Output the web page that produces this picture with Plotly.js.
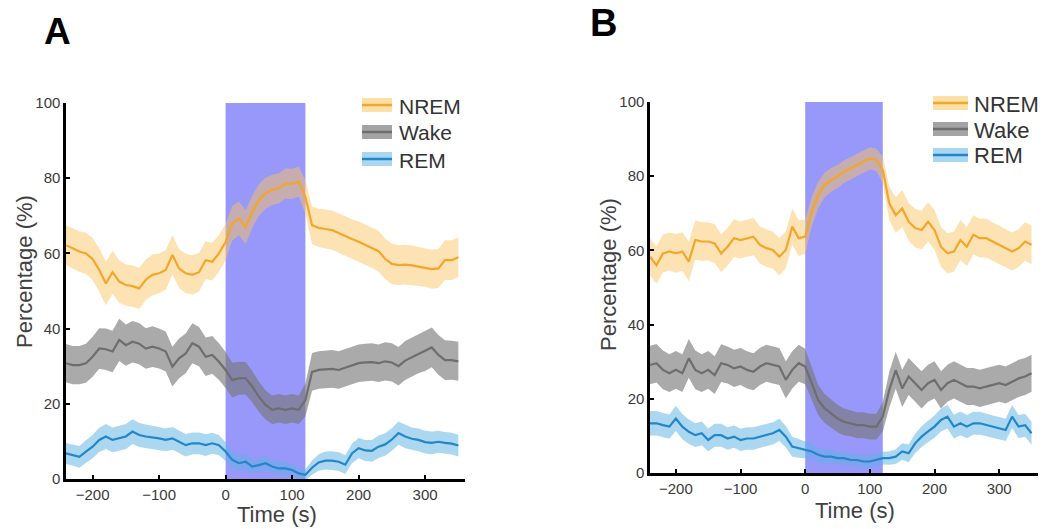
<!DOCTYPE html>
<html>
<head>
<meta charset="utf-8">
<script src="https://cdn.plot.ly/plotly-3.0.1.min.js"></script>
<style>html,body{margin:0;padding:0;background:#fff;}#chart{width:1048px;height:529px;}</style>
</head>
<body>
<div id="chart"></div>
<script>
// Time (s)
var T = [-240,-230,-220,-210,-200,-190,-180,-170,-160,-150,-140,-130,-120,-110,-100,-90,-80,-70,-60,-50,-40,-30,-20,-10,0,10,20,30,40,50,60,70,80,90,100,110,120,130,140,150,160,170,180,190,200,210,220,230,240,250,260,270,280,290,300,310,320,330,340,350];

// Panel A means (%)
var A_NREM = [62.2,61.3,60.5,60,58.5,55.6,52,55,52.5,51.6,51.3,50.7,53,54.3,54.7,55.6,59.6,56,54.7,54.3,55,58.2,57.8,60,63,68,69.3,67,71,74.2,76,76.9,77.3,78.6,78.5,79.1,75,67.5,66.8,66.5,66.2,65.4,64.5,63.8,63.1,62.3,61.5,60.6,58.5,57.2,56.9,57,56.8,56.5,56.3,55.8,56,58.2,58.2,59];
var A_WAKE = [30.8,30.3,30.3,30.8,32.5,34.7,34.5,33.9,37,35.6,36.5,36,34.7,35.2,34.7,33.9,29.9,32.1,33.4,36.1,35.2,32.5,33,31.2,29,26.3,26.8,26.8,24.6,21.9,19.7,18.4,18.8,18.4,18.8,18.4,21,28.5,29,29.2,29.3,29,29.6,30.2,30.8,31,31.1,30.8,31.3,31,30,31.5,32.4,33.3,34,35,33,31.6,31.6,31.3];
var A_REM = [6.8,6.4,5.9,7.3,8.6,10.4,11.3,10.4,10.8,11.3,12.6,11.7,11.3,11.1,10.8,10.4,10.8,9.9,9,9.5,9.5,9,9.5,9,7.3,5.1,4.2,4.6,3.3,3.7,4.2,3.3,2.8,2.8,2.4,1.5,1.1,3,4.4,4.9,4.9,4.6,3.8,6.8,8.2,7.6,7.5,8.6,9.2,10.5,12.2,11.3,10.7,10.4,9.8,9.6,9.9,9.6,9.4,8.9];

// Panel A half-widths of shaded bands
var A_NREM_SEM = [5.3,5.3,5.4,5.5,5.6,5.8,5.8,5.7,5.6,5.5,5.5,5.5,5.4,5.4,5.3,5.3,5.2,5.2,5.2,5.2,5.1,5,5,4.9,4.8,4.6,4.5,4.5,4.3,4.2,4.1,4,4,4,4,4,4.5,5,5.1,5.2,5.2,5.3,5.3,5.3,5.4,5.4,5.4,5.4,5.4,5.4,5.3,5.3,5.3,5.2,5.2,5.2,5.2,5.3,5.3,5.3];
var A_WAKE_SEM = [5.1,5.1,5.1,5.2,5.3,5.4,5.5,5.5,5.6,5.5,5.5,5.5,5.4,5.4,5.3,5.3,5.3,5.3,5.3,5.3,5.2,5.1,5,4.9,4.8,4.6,4.4,4.3,4.2,4,3.9,3.8,3.8,3.8,3.8,3.8,4.4,5,5,5,5,5,5,5,5,5,5,5,5.1,5.1,5.1,5.2,5.2,5.2,5.3,5.3,5.3,5.3,5.2,5.2];
var A_REM_SEM = [2.8,2.8,2.9,3,3.1,3.2,3.3,3.3,3.3,3.3,3.3,3.2,3.2,3.1,3.1,3,3,3,3,2.9,2.9,2.9,2.8,2.7,2.5,2.2,2,2,1.9,1.8,1.8,1.8,1.7,1.7,1.6,1.5,1.5,1.9,2.2,2.4,2.5,2.5,2.5,2.6,2.7,2.8,2.9,3,3,3,3.1,3.1,3,3,3,3,2.9,2.9,2.9,2.9];

// Panel B means (%)
var B_NREM = [58.3,56,59.2,59.7,59.2,59.7,57,62.8,62.4,62.4,61.9,59.2,61,63.3,62.8,63.3,63.7,61.5,60.6,60.1,58.3,60.1,66.4,63.3,63.7,70.4,74.9,77.6,79,79.9,81.2,82.1,83,83.9,84.8,84.4,81.7,72.7,69.5,71.3,67.7,66,65.5,67.7,65.5,61,59.2,59.7,62.8,61,64.2,63.3,63.3,62.4,61.5,60.6,59.7,60.6,62.4,61.5];
var B_WAKE = [29.1,29.6,27.8,26.9,27.8,26.9,30.9,27.8,26.9,27.8,26.4,29.6,29.1,28.2,28.7,27.8,27.3,28.7,29.6,29.1,28.7,25.1,27.8,29.6,28.7,24.2,19.7,17.4,16.1,14.7,13.8,13.4,12.9,12.9,12.5,12.5,15.2,22.4,27.7,22.8,26,24.2,22.4,24.2,25.1,22.4,24.2,25.1,24.2,23.3,23.3,22.8,23.3,23.7,24.2,23.7,24.6,25.5,26,26.9];
var B_REM = [13.4,13.4,12.9,12.5,14.7,12.5,11.1,10.2,10.7,8.9,10.2,10.2,9.3,9.8,8.9,9.3,9.3,9.8,10.2,10.7,11.6,9.8,7.1,6.6,6.2,5.8,4.9,4.4,4.4,4,4,3.5,3.5,3.1,3.1,3.5,4,4,4.4,5.8,5.3,8,9.8,11.2,12.5,14.3,15.2,12.5,13.4,12.5,13.4,13.4,12.9,12.5,12.1,11.6,15.2,12.5,12.9,10.7];

// Panel B half-widths of shaded bands
var B_NREM_SEM = [5,5,5.1,5.1,5.2,5.2,5.3,5.3,5.2,5.2,5.2,5.1,5.1,5.1,5,5,5,5,5,5,5,5,4.9,4.8,4.6,4,3.6,3.3,3.2,3.1,3,3,3,3,3,3,3.6,4.5,4.8,5,5.1,5.2,5.2,5.3,5.3,5.4,5.4,5.4,5.4,5.3,5.3,5.2,5.2,5.1,5.1,5.1,5.1,5.1,5.2,5.2];
var B_WAKE_SEM = [5.2,5.2,5.2,5.1,5.1,5.1,5.2,5.2,5.1,5.1,5.1,5.1,5,5,5,5,5,5,5,5,5,5,5,5,4.8,4.4,4.1,3.9,3.8,3.7,3.6,3.5,3.5,3.5,3.5,3.5,4,4.8,5,5,5,5,5,5,5,5,5,5,5,5,5,5,5,5,5,5,5,5,5,5];
var B_REM_SEM = [3.3,3.3,3.3,3.3,3.4,3.4,3.3,3.2,3.2,3.1,3.1,3.1,3,3,3,3,3,3,3,3,3,2.9,2.7,2.5,2.3,2.1,2,1.9,1.8,1.8,1.7,1.7,1.6,1.6,1.6,1.6,1.7,1.8,2,2.2,2.4,2.6,2.8,2.9,3,3.1,3.2,3.2,3.2,3.1,3.1,3.1,3,3,3,3,3.1,3.1,3.1,3.1];

// Stimulation window (s)
var STIM = [0, 120];
var YTICKS = [0, 20, 40, 60, 80, 100];
var XTICKS = [-200, -100, 0, 100, 200, 300];
var STATES = ['NREM', 'Wake', 'REM'];

var COL = {
  NREM: {line: '#f2a62a', band: 'rgba(251,196,96,0.48)', sw: '#fde0a8'},
  Wake: {line: '#6e6e6e', band: 'rgba(118,118,118,0.62)', sw: '#a4a4a4'},
  REM:  {line: '#2286c8', band: 'rgba(96,178,228,0.52)', sw: '#a9d6f1'}
};

function bandTraces(x, m, s, c, xa, ya) {
  var up = [], lo = [];
  for (var i = 0; i < m.length; i++) { up.push(m[i] + s[i]); lo.push(m[i] - s[i]); }
  var bx = x.concat(x.slice().reverse());
  var by = up.concat(lo.slice().reverse());
  return [
    {x: bx, y: by, type: 'scatter', mode: 'lines', fill: 'toself', fillcolor: c.band,
     line: {width: 0}, hoverinfo: 'skip', showlegend: false, xaxis: xa, yaxis: ya},
    {x: x, y: m, type: 'scatter', mode: 'lines', line: {color: c.line, width: 2.2},
     hoverinfo: 'skip', showlegend: false, xaxis: xa, yaxis: ya}
  ];
}

var data = [];
var panels = [
  {xa: 'x', ya: 'y', series: [[A_NREM, A_NREM_SEM, 'NREM'], [A_WAKE, A_WAKE_SEM, 'Wake'], [A_REM, A_REM_SEM, 'REM']]},
  {xa: 'x2', ya: 'y2', series: [[B_NREM, B_NREM_SEM, 'NREM'], [B_WAKE, B_WAKE_SEM, 'Wake'], [B_REM, B_REM_SEM, 'REM']]}
];
panels.forEach(function (p) {
  p.series.forEach(function (s) {
    data = data.concat(bandTraces(T, s[0], s[1], COL[s[2]], p.xa, p.ya));
  });
});

var W = 1048, H = 529;
function px(v) { return v / W; }
function py(v) { return 1 - v / H; }

var axisCommon = {
  showgrid: false, zeroline: false, showline: true, linecolor: '#000', linewidth: 2.6,
  ticks: 'inside', ticklen: 4, tickwidth: 2, tickcolor: '#000',
  tickfont: {family: 'Arial, Liberation Sans, sans-serif', size: 15, color: '#3a3a3a'},
  automargin: false, fixedrange: true
};

function ax(extra) { return Object.assign({}, axisCommon, extra); }

var shapes = [
  {type: 'rect', xref: 'x', yref: 'y', x0: STIM[0], x1: STIM[1], y0: 0, y1: 100.5,
   fillcolor: '#9898fa', line: {width: 0}, layer: 'below'},
  {type: 'rect', xref: 'x2', yref: 'y2', x0: STIM[0], x1: STIM[1], y0: 0, y1: 100.5,
   fillcolor: '#9898fa', line: {width: 0}, layer: 'below'}
];
var annotations = [];

// Legends drawn as swatches + text
var legends = [
  {x0: 362, x1: 392, tx: 397, ys: [105, 132, 159], fs: 21},
  {x0: 933, x1: 968, tx: 972, ys: [103, 129, 155], fs: 22}
];
legends.forEach(function (L) {
  STATES.forEach(function (st, i) {
    var yc = L.ys[i];
    shapes.push({type: 'rect', xref: 'paper', yref: 'paper', x0: px(L.x0), x1: px(L.x1),
      y0: py(yc + 7), y1: py(yc - 7), fillcolor: COL[st].sw, line: {width: 0}});
    shapes.push({type: 'line', xref: 'paper', yref: 'paper', x0: px(L.x0), x1: px(L.x1),
      y0: py(yc), y1: py(yc), line: {color: COL[st].line, width: 2.5}});
    annotations.push({xref: 'paper', yref: 'paper', x: px(L.tx), y: py(yc + 1), text: st,
      showarrow: false, xanchor: 'left', yanchor: 'middle',
      font: {family: 'Arial, Liberation Sans, sans-serif', size: L.fs, color: '#333'}});
  });
});

// Axis titles and panel letters
var tf = {family: 'Arial, Liberation Sans, sans-serif', color: '#404040'};
annotations.push({xref: 'paper', yref: 'paper', x: px(24), y: py(272), text: 'Percentage (%)', textangle: -90,
  showarrow: false, xanchor: 'center', yanchor: 'middle', font: Object.assign({size: 22}, tf)});
annotations.push({xref: 'paper', yref: 'paper', x: px(608), y: py(275), text: 'Percentage (%)', textangle: -90,
  showarrow: false, xanchor: 'center', yanchor: 'middle', font: Object.assign({size: 22}, tf)});
annotations.push({xref: 'paper', yref: 'paper', x: px(277), y: py(514), text: 'Time (s)',
  showarrow: false, xanchor: 'center', yanchor: 'middle', font: Object.assign({size: 22}, tf)});
annotations.push({xref: 'paper', yref: 'paper', x: px(855), y: py(510), text: 'Time (s)',
  showarrow: false, xanchor: 'center', yanchor: 'middle', font: Object.assign({size: 22}, tf)});
annotations.push({xref: 'paper', yref: 'paper', x: px(57), y: py(31), text: '<b>A</b>',
  showarrow: false, xanchor: 'center', yanchor: 'middle', font: {family: 'Arial, Liberation Sans, sans-serif', size: 37, color: '#000'}});
annotations.push({xref: 'paper', yref: 'paper', x: px(603), y: py(23), text: '<b>B</b>',
  showarrow: false, xanchor: 'center', yanchor: 'middle', font: {family: 'Arial, Liberation Sans, sans-serif', size: 38, color: '#000'}});

var layout = {
  width: W, height: H,
  margin: {l: 0, r: 0, t: 0, b: 0, pad: 0},
  paper_bgcolor: '#fff', plot_bgcolor: 'rgba(0,0,0,0)',
  showlegend: false, hovermode: false,
  xaxis: ax({domain: [px(66), px(465)], range: [-240, 360], tickvals: XTICKS, anchor: 'y'}),
  yaxis: ax({domain: [py(479), py(103)], range: [0, 100], tickvals: YTICKS, anchor: 'x'}),
  xaxis2: ax({domain: [px(650), px(1038)], range: [-240, 360], tickvals: XTICKS, anchor: 'y2'}),
  yaxis2: ax({domain: [py(473), py(102)], range: [0, 100], tickvals: YTICKS, anchor: 'x2'}),
  shapes: shapes,
  annotations: annotations
};

Plotly.newPlot('chart', data, layout, {displayModeBar: false, staticPlot: true});
</script>
</body>
</html>
